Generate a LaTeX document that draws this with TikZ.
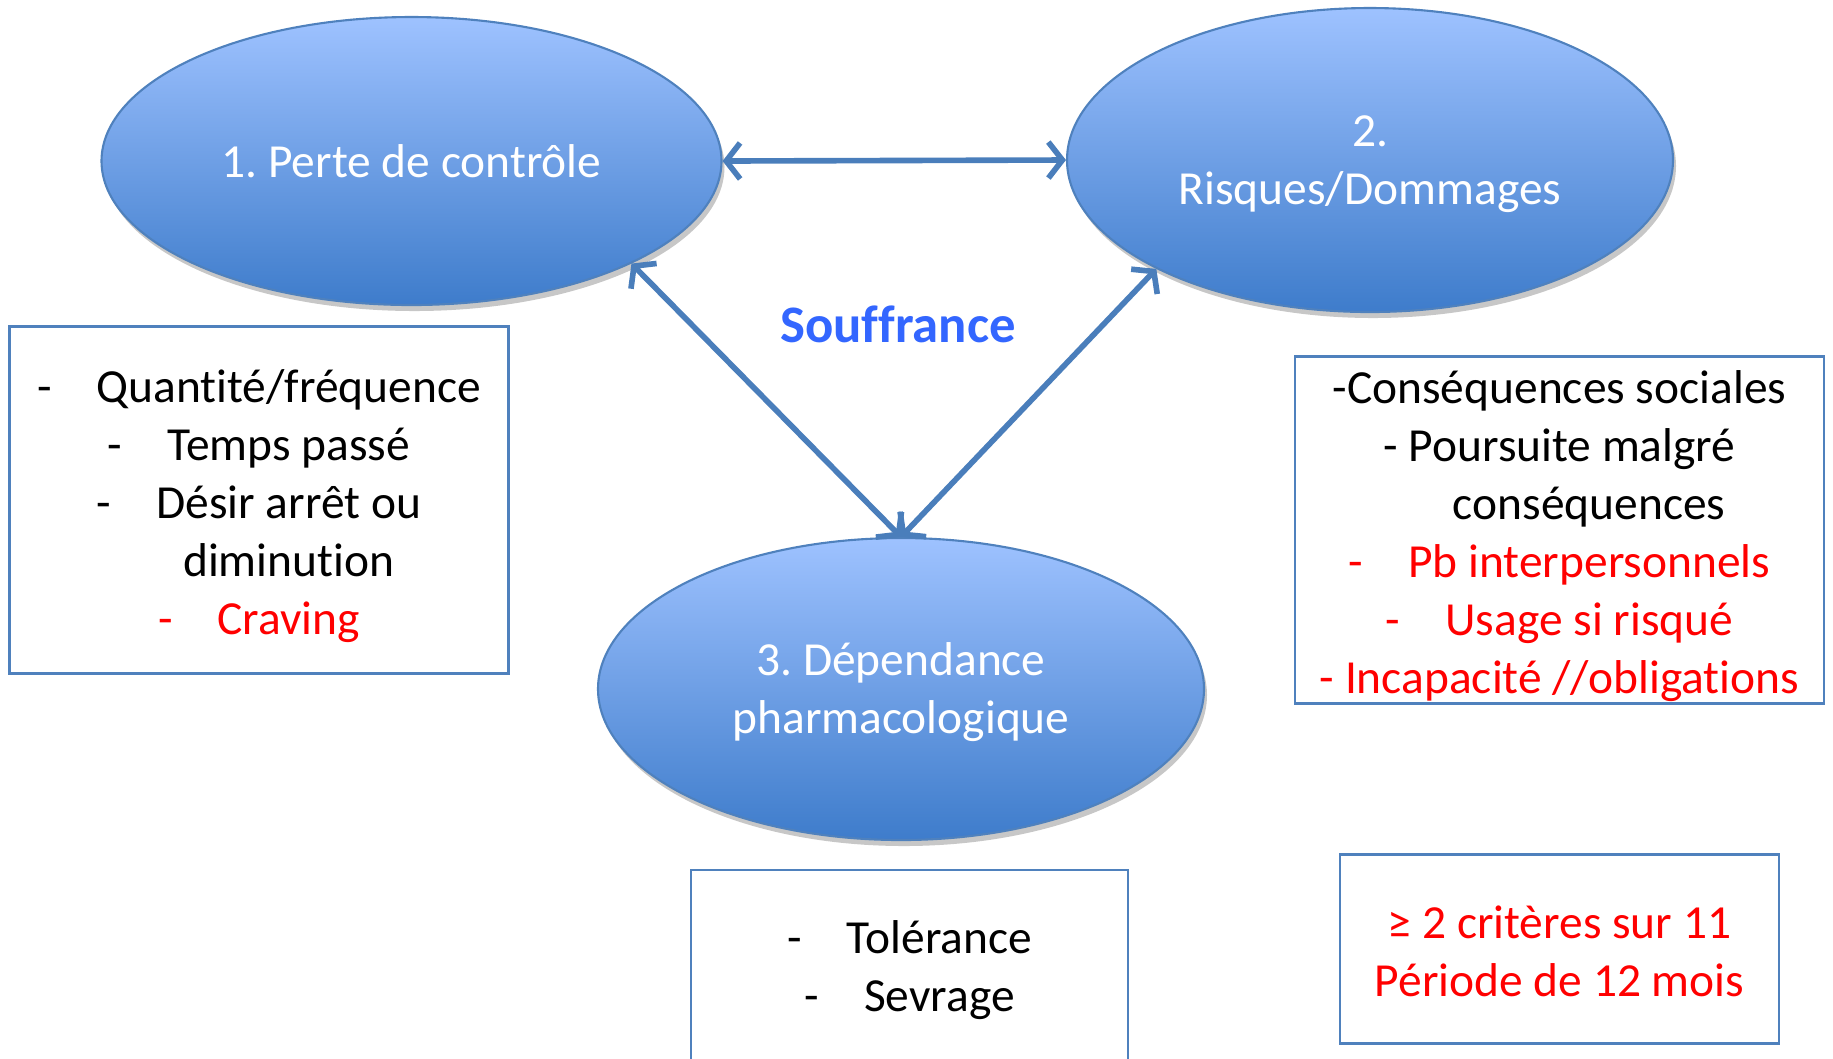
\documentclass[tikz,border=0pt]{standalone}
\usepackage{fontspec}
\setmainfont[Ligatures=NoCommon]{Carlito}
\usepackage{xcolor}
\usetikzlibrary{shapes.geometric, arrows.meta, shadows}
\frenchspacing

\definecolor{ovalhaut}{RGB}{158,194,255}
\definecolor{ovalbas}{RGB}{62,124,203}
\definecolor{bordbleu}{RGB}{79,129,189}
\definecolor{flechebleu}{RGB}{74,126,187}
\definecolor{souffbleu}{RGB}{51,102,255}
\definecolor{rougetxt}{RGB}{255,0,0}

\newcommand{\tiret}{-\hspace{0.95em}}
\newcommand{\suite}{\phantom{-}\hspace{0.95em}}

\begin{document}
\begin{tikzpicture}[
    critere/.style={ellipse, draw=bordbleu, line width=0.6pt, top color=ovalhaut, bottom color=ovalbas, inner sep=0pt, align=center, text=white, font=\fontsize{13.5}{16.5}\selectfont, drop shadow={shadow xshift=0.3mm, shadow yshift=-0.6mm, fill=black!22, opacity=1}},
    liste/.style={rectangle, draw=bordbleu, line width=0.7pt, fill=white, inner sep=0pt, align=center, font=\fontsize{13.5}{16.5}\selectfont},
    lien/.style={draw=flechebleu, line width=1.6pt, {Straight Barb[length=1.4mm, width=3.6mm]}-{Straight Barb[length=1.4mm, width=3.6mm]}},
    rouge/.style={text=rougetxt}
]
    \useasboundingbox (0, 0) rectangle (18.33, -10.58);

    % Les trois criteres (ellipses)
    \node (perte) at (4.115, -1.61) [critere, minimum width=6.20cm, minimum height=2.88cm] {1. Perte de contrôle};
    \node (risques) at (13.70, -1.60) [critere, minimum width=6.06cm, minimum height=3.04cm] {\rule{0pt}{0.39cm}2.\\Risques/Dommages};
    \node (dep) at (9.01, -6.89) [critere, minimum width=6.06cm, minimum height=3.02cm] {\rule{0pt}{0.40cm}3. Dépendance\\pharmacologique};

    \node (souffrance) at (8.98, -3.24) [font=\fontsize{15}{18}\selectfont\bfseries, text=souffbleu] {Souffrance};

    % Listes sous chaque critere
    \node (listeperte) at (2.59, -5.00) [liste, minimum width=4.99cm, minimum height=3.47cm] {\rule{0pt}{0.45cm}\tiret Quantité/fréquence\\\tiret Temps passé\\\tiret Désir arrêt ou\\\suite diminution\\\textcolor{rougetxt}{\tiret Craving}};
    \node (listerisques) at (15.595, -5.30) [liste, minimum width=5.29cm, minimum height=3.47cm] {\rule{0pt}{0.45cm}-Conséquences sociales\\- Poursuite malgré\\\hspace*{1.25em}conséquences\\\textcolor{rougetxt}{\tiret Pb interpersonnels}\\\textcolor{rougetxt}{\tiret Usage si risqué}\\\textcolor{rougetxt}{- Incapacité //obligations}};
    \node (listedep) at (9.095, -9.66) [liste, minimum width=4.37cm, minimum height=1.92cm] {\rule{0pt}{0.42cm}\tiret Tolérance\\\tiret Sevrage};
    \node (seuil) at (15.595, -9.49) [liste, rouge, minimum width=4.39cm, minimum height=1.89cm] {\rule{0pt}{0.37cm}≥ 2 critères sur 11\\Période de 12 mois};

    % Liens entre criteres
    \draw [lien] (perte.east) -- (risques.west);
    \draw [lien] (perte.-25) -- (dep.north);
    \draw [lien] (risques.-153) -- (dep.north);

\end{tikzpicture}
\end{document}
